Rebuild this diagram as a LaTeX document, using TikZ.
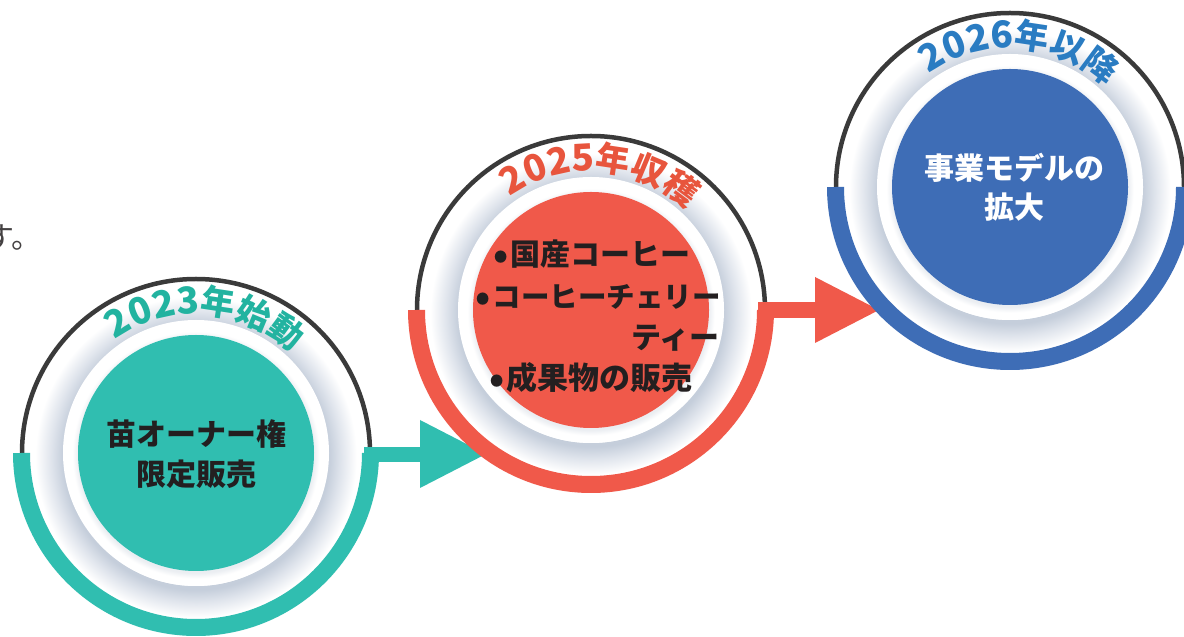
\documentclass[tikz,border=0pt]{standalone}
\usepackage{fontspec}
\newfontfamily\jp{Noto Sans CJK JP}
\usetikzlibrary{decorations.text}
\definecolor{tealD}{HTML}{30BEB0}
\definecolor{tealT}{HTML}{22B3A0}
\definecolor{redD}{HTML}{F0594A}
\definecolor{redT}{HTML}{E8553D}
\definecolor{blueD}{HTML}{3E6DB6}
\definecolor{blueT}{HTML}{2A7CC2}
\definecolor{ringdark}{HTML}{3A3A3A}
\definecolor{txtdark}{HTML}{231F20}
\definecolor{shdA}{HTML}{C5CEDB}
\definecolor{shdB}{HTML}{DFE4EC}
\definecolor{shdC}{HTML}{EBEEF2}
\pgfdeclareradialshading{ringshade}{\pgfpoint{0bp}{0bp}}{color(0bp)=(shdA); color(20bp)=(shdA); color(21.8bp)=(shdB); color(24.2bp)=(white); color(25bp)=(white); color(50bp)=(white)}
\pgfdeclareradialshading{innershade}{\pgfpoint{0bp}{0bp}}{color(0bp)=(shdC); color(22.5bp)=(shdC); color(23.6bp)=(white); color(25bp)=(white); color(50bp)=(white)}
\newcommand\stagering[3]{%
  \shade[shading=ringshade] ([yshift=-4pt]#1) circle[radius=166];
  \fill[white] (#1) circle[radius=133];
  \shade[shading=innershade] ([yshift=-2pt]#1) circle[radius=131];
  \fill[#2] (#1) circle[radius=118];
  \draw[line width=4.5pt, ringdark] (#1) ++(0:174) arc[start angle=0, end angle=180, radius=174];
  \draw[line width=17pt, #3] (#1) ++(180:174.5) arc[start angle=180, end angle=360, radius=174.5];
}
\newcommand\stagetitle[4]{%
  \path[decorate, decoration={text along path, text align=center,
    text={|\jp\bfseries\fontsize{37}{37}\selectfont\color{#2}|#3|\jp\bfseries\fontsize{34}{34}\selectfont\color{#2}|#4}}]
    (#1) ++(150:139) arc[start angle=150, end angle=22, radius=139];
}
\tikzset{
  inner/.style={font=\jp\bfseries\fontsize{30}{30}\selectfont, text=txtdark, inner sep=0pt},
  innerw/.style={inner, text=white},
  side/.style={font=\jp\fontsize{30}{30}\selectfont, text=txtdark!85, inner sep=0pt}
}
\newcommand\bul{\raisebox{-3pt}{\fontsize{38}{38}\selectfont •}\hspace{2pt}}
\begin{document}
\begin{tikzpicture}[x=1pt,y=1pt]
\useasboundingbox (0,0) rectangle (1184,637);
\clip (0,0) rectangle (1184,637);
\fill[white] (0,0) rectangle (1184,637);
\coordinate (C1) at (196,184);
\coordinate (C2) at (591,327);
\coordinate (C3) at (1010,450);
% side text
\node[side, anchor=base east] (side) at (42,388) {す。};
% stage 1
\stagering{C1}{tealD}{tealD}
\stagetitle{C1}{tealT}{2023}{年始動}
\node[inner, anchor=base] (t1a) at (196.5,191) {苗オーナー権};
\node[inner, anchor=base] (t1b) at (196.5,151) {限定販売};
% arrow 1
\coordinate (s1a) at (364,175);
\coordinate (s1b) at (422,190);
\coordinate (h1a) at (420,217);
\coordinate (h1b) at (420,149);
\coordinate (h1t) at (486,183);
\fill[tealD] (s1a) rectangle (s1b);
\fill[tealD] (h1a) -- (h1b) -- (h1t) -- cycle;
% stage 2
\stagering{C2}{redD}{redD}
\stagetitle{C2}{redT}{2025}{年収穫}
\node[inner, anchor=base east] (t2a) at (691,371) {\bul 国産コーヒー};
\node[inner, anchor=base east, font=\jp\bfseries\fontsize{28.5}{28.5}\selectfont] (t2b) at (721,329) {\bul コーヒーチェリー};
\node[inner, anchor=base east] (t2c) at (720,288) {ティー};
\node[inner, anchor=base east, font=\jp\bfseries\fontsize{31}{31}\selectfont] (t2d) at (693,247) {\bul 成果物の販売};
% arrow 2
\coordinate (s2a) at (758,319);
\coordinate (s2b) at (817,335);
\coordinate (h2a) at (815,360);
\coordinate (h2b) at (815,294);
\coordinate (h2t) at (879,327);
\fill[redD] (s2a) rectangle (s2b);
\fill[redD] (h2a) -- (h2b) -- (h2t) -- cycle;
% stage 3
\stagering{C3}{blueD}{blueD}
\stagetitle{C3}{blueT}{2026}{年以降}
\node[innerw, anchor=base] (t3a) at (1014,457) {事業モデルの};
\node[innerw, anchor=base] (t3b) at (1014,418) {拡大};
\end{tikzpicture}
\end{document}
